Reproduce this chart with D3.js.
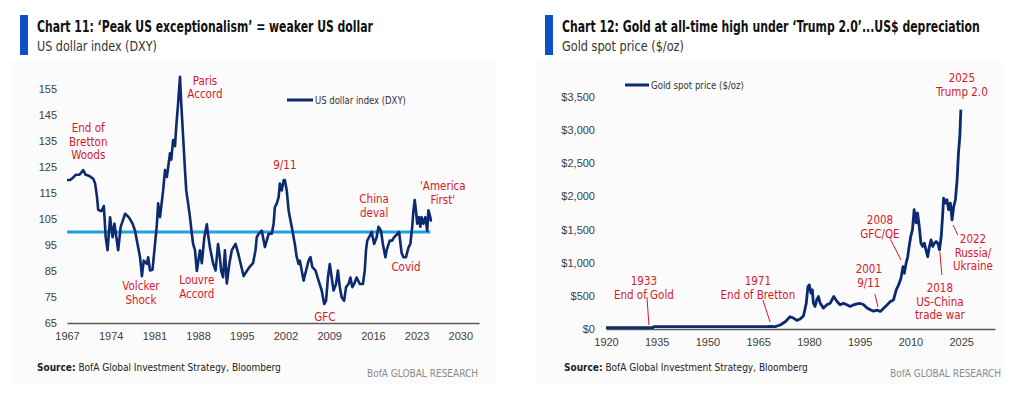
<!DOCTYPE html>
<html>
<head>
<meta charset="utf-8">
<script src="https://cdn.jsdelivr.net/npm/d3@7"></script>
<style>
  body { margin: 0; background: #fff; }
  svg { display: block; font-family: "Liberation Sans Narrow", "DejaVu Sans Condensed", "Roboto", sans-serif; }
  .tick text { fill: #404040; font-size: 11px; }
  .ann { fill: #d7182a; font-size: 11.5px; text-anchor: middle; }
  .leader { stroke: #d7182a; stroke-width: 1; }
</style>
</head>
<body>
<script>
// ---- data: US dollar index (DXY) ----
var dxyYears = [1967.0, 1967.5, 1968.0, 1968.4, 1969.0, 1969.6, 1970.0, 1970.6, 1971.2, 1971.5, 1971.8, 1972.0,
  1972.5, 1972.9, 1973.2, 1973.5, 1973.9, 1974.3, 1974.6, 1974.9, 1975.2, 1975.6, 1976.3, 1976.9, 1977.5, 1977.9,
  1978.3, 1978.7, 1979.0, 1979.3, 1979.8, 1980.0, 1980.3, 1980.7, 1981.1, 1981.4, 1981.6, 1981.9, 1982.4, 1982.7,
  1983.0, 1983.5, 1983.7, 1984.0, 1984.3, 1984.5, 1984.8, 1985.1, 1985.3, 1985.6, 1985.9, 1986.1, 1986.4, 1986.7,
  1987.0, 1987.2, 1987.5, 1987.8, 1988.3, 1988.6, 1989.0, 1989.4, 1989.6, 1989.9, 1990.4, 1990.8, 1991.2, 1991.5,
  1991.7, 1992.0, 1992.3, 1992.6, 1993.0, 1993.4, 1994.0, 1994.4, 1994.8, 1995.3, 1995.8, 1996.3, 1996.8, 1997.2,
  1997.4, 1997.7, 1998.2, 1998.7, 1999.3, 1999.8, 2000.1, 2000.3, 2000.6, 2000.9, 2001.1, 2001.4, 2001.7, 2001.9,
  2002.2, 2002.5, 2002.7, 2003.0, 2003.3, 2003.5, 2003.8, 2004.1, 2004.3, 2004.6, 2004.9, 2005.3, 2005.7, 2006.0,
  2006.3, 2006.8, 2007.3, 2007.8, 2008.2, 2008.5, 2008.8, 2009.1, 2009.4, 2009.7, 2010.1, 2010.4, 2010.7, 2011.0,
  2011.4, 2011.7, 2012.1, 2012.4, 2012.7, 2013.0, 2013.4, 2013.9, 2014.4, 2014.7, 2014.9, 2015.1, 2015.4, 2015.8,
  2016.2, 2016.6, 2016.9, 2017.3, 2017.6, 2018.0, 2018.2, 2018.7, 2019.1, 2019.4, 2019.7, 2020.2, 2020.6, 2020.9,
  2021.3, 2021.7, 2022.0, 2022.3, 2022.5, 2022.7, 2022.9, 2023.1, 2023.4, 2023.6, 2023.8, 2024.1, 2024.4, 2024.7,
  2024.9, 2025.2, 2025.3];
var dxyValues = [120, 120, 121, 122, 122, 123.8, 122, 121.5, 120.5, 118.7, 113.6, 108.5,
  108, 110, 98, 93, 105.7, 98, 103.2, 98, 93, 102, 107, 105.7, 103.2, 100.5,
  95.4, 90.3, 83, 89, 87.7, 90.3, 85.2, 85.5, 95.4, 103, 111, 105.7, 116, 123.8,
  121.2, 130.3, 127.8, 135.4, 133, 140.5, 149.5, 159.7, 149.5, 136.7, 123.8, 116, 111, 105.7,
  99.3, 95.4, 93, 85, 93, 88, 98, 103, 99, 94, 88, 85.2, 95.4, 90,
  85, 82.6, 93, 80.2, 87.7, 93, 95.4, 92, 88, 83, 85, 86.7, 88, 93,
  98, 99.3, 100.5, 94.2, 99.3, 99.3, 103.2, 109.6, 110.9, 113.4, 118.6, 116, 119.9, 120,
  116, 108.3, 105.7, 102, 98, 95.4, 90.3, 87.7, 89, 85.2, 81.3, 85.2, 89, 90.3,
  86.5, 85.2, 81.3, 77.5, 72.3, 73.6, 82.5, 87.7, 82.5, 77.5, 80, 85.2, 78.8, 74.9,
  73.6, 78.8, 80, 82.5, 78.8, 80, 82.5, 80, 80, 85.2, 93, 96.7, 98, 100,
  95.4, 98, 102, 100.5, 95.4, 90.3, 93, 96.7, 96.7, 98, 98.7, 100, 92, 90.3,
  90.3, 94, 95.4, 102, 108.3, 112.3, 108.3, 103.2, 105.7, 102, 105.7, 103.2, 105.7, 100.5,
  108.3, 105.7, 104];
var dxyRefLevel = 100;          // light-blue reference line
var dxyRefEnd = 2025.2;
var dxyXTicks = [1967, 1974, 1981, 1988, 1995, 2002, 2009, 2016, 2023, 2030];
var dxyYTicks = [65, 75, 85, 95, 105, 115, 125, 135, 145, 155];

// ---- data: gold spot price ($/oz) ----
var goldYears = [1920, 1933.9, 1934.1, 1967.5, 1968.5, 1970.0, 1971.5, 1973.0, 1974.4, 1975.4, 1976.4, 1977.4,
  1978.4, 1979.2, 1979.7, 1980.1, 1980.6, 1981.0, 1981.3, 1981.8, 1982.3, 1982.8, 1983.3, 1984.3, 1985.3,
  1986.3, 1987.3, 1988.3, 1989.2, 1990.2, 1991.2, 1992.2, 1993.2, 1994.2, 1995.1, 1996.1, 1997.1, 1998.1,
  1999.1, 2000.1, 2001.1, 2002.0, 2003.0, 2004.0, 2005.0, 2005.8, 2006.5, 2007.2, 2007.8, 2008.2, 2008.7,
  2009.2, 2009.6, 2010.1, 2010.6, 2011.1, 2011.4, 2011.7, 2012.1, 2012.6, 2013.1, 2013.6, 2014.1, 2014.6,
  2015.1, 2015.6, 2016.1, 2016.6, 2017.1, 2017.6, 2018.1, 2018.6, 2019.1, 2019.5, 2019.8, 2020.3, 2020.8,
  2021.3, 2021.8, 2022.3, 2022.8, 2023.3, 2023.8, 2024.2, 2024.6, 2024.9];
var goldValues = [20.67, 20.67, 35, 35, 40, 37, 60, 110, 186, 165, 130, 150,
  200, 388, 640, 665, 540, 590, 390, 340, 440, 490, 390, 315, 365,
  390, 490, 415, 365, 390, 365, 340, 365, 380, 385, 370, 320, 290,
  270, 285, 265, 310, 360, 410, 440, 590, 665, 765, 940, 840, 990,
  1090, 1240, 1395, 1500, 1800, 1700, 1600, 1750, 1550, 1295, 1245, 1295, 1195,
  1090, 1240, 1345, 1245, 1295, 1320, 1295, 1195, 1395, 1700, 1975, 1900, 1950,
  1800, 1900, 1645, 1850, 1950, 2250, 2655, 2905, 3310];
var goldXTicks = [1920, 1935, 1950, 1965, 1980, 1995, 2010, 2025];
var goldYTicks = [0, 500, 1000, 1500, 2000, 2500, 3000, 3500];

// annotations: text lines, anchor (year, value) of the first line
var dxyNotes = [
  { lines: ['End of', 'Bretton', 'Woods'], year: 1970.4, value: 140 },
  { lines: ['Paris', 'Accord'], year: 1989.1, value: 158.1 },
  { lines: ['Volcker', 'Shock'], year: 1978.85, value: 79.2 },
  { lines: ['Louvre', 'Accord'], year: 1987.8, value: 81.5 },
  { lines: ['9/11'], year: 2001.9, value: 125.8 },
  { lines: ['GFC'], year: 2008.3, value: 67.3 },
  { lines: ['China', 'deval'], year: 2016.2, value: 112.7 },
  { lines: ['Covid'], year: 2021.3, value: 86.5 },
  { lines: ["'America", "First'"], year: 2027.2, value: 117.7 }
];
var goldNotes = [
  { lines: ['1933', 'End of Gold'], year: 1931.2, value: 724, leader: [1932.1, 483, 1932.7, 60] },
  { lines: ['1971', 'End of Bretton'], year: 1964.9, value: 724, leader: [1966.4, 437, 1968.5, 106] },
  { lines: ['2001', '9/11'], year: 1997.7, value: 905, leader: [1999.5, 528, 2000.4, 332] },
  { lines: ['2008', 'GFC/QE'], year: 2001.0, value: 1644, leader: [2004.2, 1343, 2007.2, 1041] },
  { lines: ['2018', 'US-China', 'trade war'], year: 2018.7, value: 618, leader: [2018.7, 1162, 2019.3, 815] },
  { lines: ['2022', 'Russia/', 'Ukraine'], year: 2028.5, value: 1358, leader: [2022.6, 1569, 2024.0, 1418] },
  { lines: ['2025', 'Trump 2.0'], year: 2025.2, value: 3786 }
];

var navy = '#0b2a6f';
var W = 1024, H = 396;

var svg = d3.select('body').append('svg')
    .attr('width', W)
    .attr('height', H);

// faint panels
svg.append('rect').attr('x', 10).attr('y', 62).attr('width', 487).attr('height', 322).attr('fill', '#fbfbfb');
svg.append('rect').attr('x', 535).attr('y', 62).attr('width', 470).attr('height', 322).attr('fill', '#fbfbfb');

// text squeezed horizontally to a given width (the original uses a condensed face)
function fitText(parent, x, y, w, size, weight, fill, str) {
  var g = parent.append('g').attr('transform', 'translate(' + x + ',' + y + ')');
  var t = g.append('text').attr('font-size', size).attr('font-weight', weight).attr('fill', fill).text(str);
  var nat = t.node().getComputedTextLength();
  t.attr('transform', 'scale(' + (w / nat) + ',1)');
  return t;
}

function header(x, title, titleW, sub, subW) {
  svg.append('rect').attr('x', x - 17).attr('y', 15).attr('width', 8).attr('height', 40).attr('fill', '#0b52c6');
  fitText(svg, x, 32, titleW, 15, 'bold', '#111', title);
  fitText(svg, x, 51, subW, 13.5, 'normal', '#333', sub);
}

function footer(x, right) {
  var t = svg.append('text').attr('x', x).attr('y', 371).attr('font-size', 10).attr('fill', '#222');
  t.append('tspan').attr('font-weight', 'bold').text('Source:');
  t.append('tspan').text(' BofA Global Investment Strategy, Bloomberg');
  svg.append('text').attr('x', right).attr('y', 377).attr('text-anchor', 'end')
      .attr('font-size', 10).attr('fill', '#8a8a8a').text('BofA GLOBAL RESEARCH');
}

function notes(g, list, x, y) {
  list.forEach(function(n) {
    if (n.leader) {
      g.append('line').attr('class', 'leader')
          .attr('x1', x(n.leader[0])).attr('y1', y(n.leader[1]))
          .attr('x2', x(n.leader[2])).attr('y2', y(n.leader[3]));
    }
    var t = g.append('text').attr('class', 'ann')
        .attr('x', x(n.year)).attr('y', y(n.value));
    n.lines.forEach(function(s, i) {
      t.append('tspan').attr('x', x(n.year)).attr('dy', i === 0 ? '0.35em' : 13.5).text(s);
    });
  });
}

function styleAxis(sel) {
  sel.select('.domain').attr('stroke', '#595959').attr('stroke-width', 1.6);
}

// ---------- Chart 11 ----------
header(37, 'Chart 11: \u2018Peak US exceptionalism\u2019 = weaker US dollar', 336, 'US dollar index (DXY)', 120);

var x1 = d3.scaleLinear().domain([1967, 2033]).range([67, 479]);
var y1 = d3.scaleLinear().domain([65, 155]).range([323, 89]);

var g1 = svg.append('g');

g1.append('g').attr('transform', 'translate(0,' + y1(65) + ')')
    .call(d3.axisBottom(x1).tickValues(dxyXTicks).tickFormat(d3.format('d')).tickSize(0).tickPadding(9))
    .call(styleAxis);
g1.append('g').attr('transform', 'translate(' + x1(1967) + ',0)')
    .call(d3.axisLeft(y1).tickValues(dxyYTicks).tickSize(0).tickPadding(10))
    .call(function(s) { s.select('.domain').remove(); });

g1.append('line')
    .attr('x1', x1(1967)).attr('x2', x1(dxyRefEnd))
    .attr('y1', y1(dxyRefLevel)).attr('y2', y1(dxyRefLevel))
    .attr('stroke', '#1fa3e0').attr('stroke-width', 3);

var line1 = d3.line()
    .x(function(d, i) { return x1(dxyYears[i]); })
    .y(function(d) { return y1(d); });
g1.append('path').datum(dxyValues)
    .attr('d', line1).attr('fill', 'none')
    .attr('stroke', navy).attr('stroke-width', 2.6).attr('stroke-linejoin', 'round');

// legend
g1.append('line').attr('x1', 287).attr('x2', 313).attr('y1', 100).attr('y2', 100)
    .attr('stroke', navy).attr('stroke-width', 3);
fitText(g1, 315, 104, 91, 10.5, 'normal', '#333', 'US dollar index (DXY)');

notes(g1, dxyNotes, x1, y1);
footer(37, 478);

// ---------- Chart 12 ----------
header(562, 'Chart 12: Gold at all-time high under \u2018Trump 2.0\u2019...US$ depreciation', 418, 'Gold spot price ($/oz)', 122);

var x2 = d3.scaleLinear().domain([1920, 2035]).range([606, 995]);
var y2 = d3.scaleLinear().domain([0, 3500]).range([329, 97]);

var g2 = svg.append('g');

g2.append('g').attr('transform', 'translate(0,' + y2(0) + ')')
    .call(d3.axisBottom(x2).tickValues(goldXTicks).tickFormat(d3.format('d')).tickSize(0).tickPadding(9))
    .call(styleAxis);
g2.append('g').attr('transform', 'translate(' + x2(1920) + ',0)')
    .call(d3.axisLeft(y2).tickValues(goldYTicks).tickFormat(d3.format('$,')).tickSize(0).tickPadding(11))
    .call(function(s) { s.select('.domain').remove(); });

var line2 = d3.line()
    .x(function(d, i) { return x2(goldYears[i]); })
    .y(function(d) { return y2(d); });
g2.append('path').datum(goldValues)
    .attr('d', line2).attr('fill', 'none')
    .attr('stroke', navy).attr('stroke-width', 2.8).attr('stroke-linejoin', 'round');

g2.append('line').attr('x1', 625).attr('x2', 649).attr('y1', 85).attr('y2', 85)
    .attr('stroke', navy).attr('stroke-width', 3);
fitText(g2, 651, 89, 93, 10.5, 'normal', '#333', 'Gold spot price ($/oz)');

notes(g2, goldNotes, x2, y2);
footer(564, 1001);
</script>
</body>
</html>
